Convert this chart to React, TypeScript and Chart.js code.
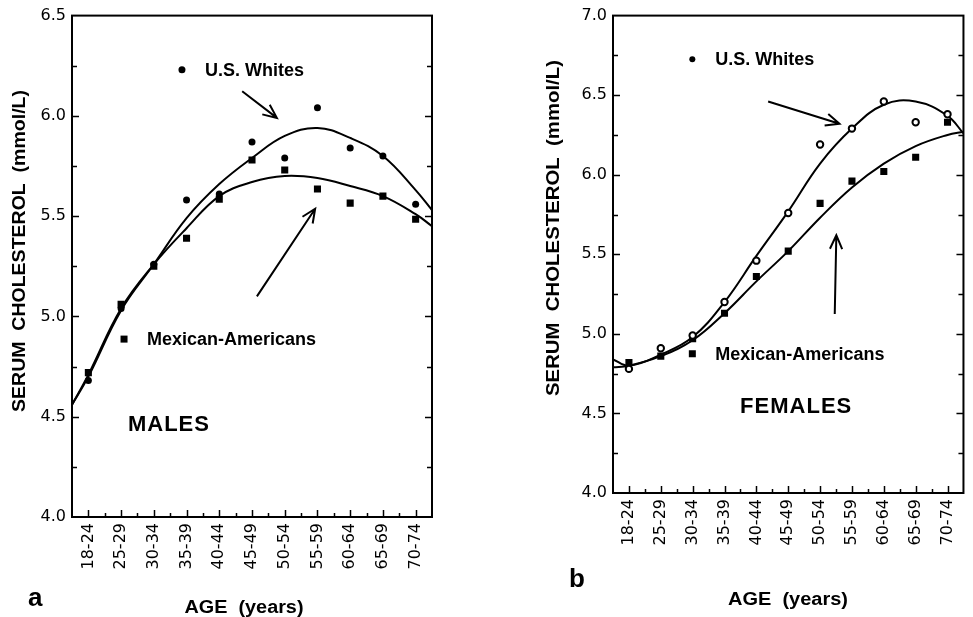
import React, { useEffect, useRef } from "react";
import { Chart, registerables } from "chart.js";
Chart.register(...registerables);

// ---------- DATA ----------
const ageGroups = ["18-24", "25-29", "30-34", "35-39", "40-44", "45-49", "50-54", "55-59", "60-64", "65-69", "70-74"];

// Panel a: males (observed means)
const maleWhites = [4.68, 5.04, 5.26, 5.58, 5.61, 5.87, 5.79, 6.04, 5.84, 5.8, 5.56];
const maleMexican = [4.72, 5.06, 5.25, 5.39, 5.585, 5.78, 5.73, 5.635, 5.565, 5.6, 5.485];
// Panel b: females (observed means)
const femaleWhites = [4.78, 4.91, 4.99, 5.2, 5.46, 5.76, 6.19, 6.29, 6.46, 6.33, 6.38];
const femaleMexican = [4.82, 4.86, 4.97, 5.13, 5.36, 5.52, 5.82, 5.96, 6.02, 6.11, 6.33];

// Fitted curves at these age-group positions
const curveX = [-0.5, 0, 1, 2, 3, 4, 5, 6, 7, 8, 9, 10, 10.5];
const maleWhitesCurve = [4.56, 4.7, 5.03, 5.26, 5.49, 5.66, 5.79, 5.9, 5.94, 5.89, 5.8, 5.63, 5.53];
const maleMexicanCurve = [4.56, 4.71, 5.04, 5.26, 5.44, 5.6, 5.67, 5.7, 5.69, 5.65, 5.6, 5.51, 5.45];
const femaleWhitesCurve = [4.84, 4.8, 4.87, 4.98, 5.2, 5.49, 5.77, 6.07, 6.29, 6.44, 6.46, 6.37, 6.26];
const femaleMexicanCurve = [4.79, 4.8, 4.86, 4.96, 5.13, 5.33, 5.52, 5.73, 5.92, 6.07, 6.18, 6.25, 6.27];

// Y ranges
const maleYRange = [4.0, 6.5];
const femaleYRange = [4.0, 7.0];

// In-plot legend entries (data coordinates)
const maleLegend = [
  { label: "U.S. Whites", x: 2.86, y: 6.23, marker: "circle" },
  { label: "Mexican-Americans", x: 1.09, y: 4.887, marker: "square" },
];
const femaleLegend = [
  { label: "U.S. Whites", x: 1.99, y: 6.725, marker: "dot" },
  { label: "Mexican-Americans", x: 1.99, y: 4.875, marker: "square" },
];
const maleArrows = [
  { x0: 4.7, y0: 6.123, x1: 5.76, y1: 5.99 },
  { x0: 5.15, y0: 5.1, x1: 6.93, y1: 5.537 },
];
const femaleArrows = [
  { x0: 4.37, y0: 6.46, x1: 6.61, y1: 6.32 },
  { x0: 6.46, y0: 5.125, x1: 6.51, y1: 5.62 },
];
const maleTag = { text: "MALES", x: 1.21, y: 4.458 };
const femaleTag = { text: "FEMALES", x: 3.49, y: 4.54 };

const yTitle = "SERUM  CHOLESTEROL  (mmol/L)";
const xTitle = "AGE  (years)";

// ---------- LAYOUT ----------
type Panel = {
  key: string;
  canvasLeft: number;
  width: number;
  area: { left: number; right: number; top: number; bottom: number };
  yRange: number[];
  whites: number[];
  mexican: number[];
  whitesCurve: number[];
  mexicanCurve: number[];
  whitesStyle: "filled" | "ring";
  legend: { label: string; x: number; y: number; marker: string }[];
  arrows: { x0: number; y0: number; x1: number; y1: number }[];
  tag: { text: string; x: number; y: number };
  letter: string;
  letterPos: [number, number];
  xTitlePos: [number, number];
  xTitleWidth: number;
  yTitlePos: [number, number];
  yTitleWidth: number;
};

const H = 617;
const panels: Panel[] = [
  {
    key: "a",
    canvasLeft: 0,
    width: 486,
    area: { left: 72, right: 432, top: 9, bottom: 517 },
    yRange: maleYRange,
    whites: maleWhites,
    mexican: maleMexican,
    whitesCurve: maleWhitesCurve,
    mexicanCurve: maleMexicanCurve,
    whitesStyle: "filled",
    legend: maleLegend,
    arrows: maleArrows,
    tag: maleTag,
    letter: "a",
    letterPos: [28, 599],
    xTitlePos: [244, 608],
    xTitleWidth: 119,
    yTitlePos: [20, 251],
    yTitleWidth: 322,
  },
  {
    key: "b",
    canvasLeft: 486,
    width: 487,
    area: { left: 127, right: 486, top: 13, bottom: 493 },
    yRange: femaleYRange,
    whites: femaleWhites,
    mexican: femaleMexican,
    whitesCurve: femaleWhitesCurve,
    mexicanCurve: femaleMexicanCurve,
    whitesStyle: "ring",
    legend: femaleLegend,
    arrows: femaleArrows,
    tag: femaleTag,
    letter: "b",
    letterPos: [83, 580],
    xTitlePos: [302, 600],
    xTitleWidth: 120,
    yTitlePos: [68, 228],
    yTitleWidth: 336,
  },
];

const BOLD = '"Liberation Sans", Arial, sans-serif';
const TICKFONT = '"DejaVu Sans", sans-serif';

function fitText(ctx: CanvasRenderingContext2D, text: string, cx: number, cy: number, target: number, rot: number) {
  const w = ctx.measureText(text).width;
  ctx.save();
  ctx.translate(cx, cy);
  ctx.rotate(rot);
  ctx.scale(target / w, 1);
  ctx.textAlign = "center";
  ctx.textBaseline = "middle";
  ctx.fillText(text, 0, 0);
  ctx.restore();
}

function drawMarker(ctx: CanvasRenderingContext2D, kind: string, x: number, y: number) {
  ctx.save();
  ctx.fillStyle = "#000";
  ctx.strokeStyle = "#000";
  if (kind === "square") {
    ctx.fillRect(x - 3.5, y - 3.5, 7, 7);
  } else if (kind === "circle") {
    ctx.beginPath();
    ctx.arc(x, y, 3.5, 0, Math.PI * 2);
    ctx.fill();
  } else if (kind === "dot") {
    ctx.beginPath();
    ctx.arc(x, y, 3, 0, Math.PI * 2);
    ctx.fill();
  } else {
    ctx.beginPath();
    ctx.arc(x, y, 3.2, 0, Math.PI * 2);
    ctx.fillStyle = "#fff";
    ctx.fill();
    ctx.lineWidth = 2;
    ctx.stroke();
  }
  ctx.restore();
}

function makeDecor(p: Panel) {
  return {
    id: "decor-" + p.key,
    afterDraw(chart: any) {
      const ctx: CanvasRenderingContext2D = chart.ctx;
      const { left, right, top, bottom } = chart.chartArea;
      const xs = chart.scales.x;
      const ys = chart.scales.y;
      ctx.save();
      ctx.strokeStyle = "#000";
      ctx.fillStyle = "#000";
      ctx.lineWidth = 2;
      ctx.strokeRect(left, top, right - left, bottom - top);

      // inward y ticks on both sides
      ctx.lineWidth = 1.5;
      const [y0, y1] = p.yRange;
      for (let k = 1; ; k++) {
        const v = y0 + k * 0.25;
        if (v >= y1 - 1e-6) break;
        const py = Math.round(ys.getPixelForValue(v)) + 0.5;
        const major = Math.abs(v * 2 - Math.round(v * 2)) < 1e-6;
        const len = major ? 7 : 5;
        ctx.beginPath();
        ctx.moveTo(left, py);
        ctx.lineTo(left + len, py);
        ctx.moveTo(right, py);
        ctx.lineTo(right - len, py);
        ctx.stroke();
      }
      // inward x ticks
      for (let i = 0; i < ageGroups.length; i++) {
        const px = Math.round(xs.getPixelForValue(i)) + 0.5;
        ctx.beginPath();
        ctx.moveTo(px, bottom);
        ctx.lineTo(px, bottom - 7);
        ctx.stroke();
        if (i < ageGroups.length - 1) {
          const pm = Math.round(xs.getPixelForValue(i + 0.5)) + 0.5;
          ctx.beginPath();
          ctx.moveTo(pm, bottom);
          ctx.lineTo(pm, bottom - 4);
          ctx.stroke();
        }
      }

      // legend markers + labels
      ctx.font = `bold 18px ${BOLD}`;
      ctx.textAlign = "left";
      ctx.textBaseline = "middle";
      for (const l of p.legend) {
        const px = xs.getPixelForValue(l.x);
        const py = ys.getPixelForValue(l.y);
        drawMarker(ctx, l.marker, px, py);
        ctx.fillStyle = "#000";
        ctx.fillText(l.label, px + 23, py + 1);
      }

      // arrows
      ctx.lineWidth = 2;
      for (const a of p.arrows) {
        const ax = xs.getPixelForValue(a.x0);
        const ay = ys.getPixelForValue(a.y0);
        const bx = xs.getPixelForValue(a.x1);
        const by = ys.getPixelForValue(a.y1);
        const ang = Math.atan2(ay - by, ax - bx);
        ctx.beginPath();
        ctx.moveTo(ax, ay);
        ctx.lineTo(bx, by);
        const hl = 15;
        const da = 0.42;
        ctx.moveTo(bx + hl * Math.cos(ang + da), by + hl * Math.sin(ang + da));
        ctx.lineTo(bx, by);
        ctx.lineTo(bx + hl * Math.cos(ang - da), by + hl * Math.sin(ang - da));
        ctx.stroke();
      }

      // panel tag
      ctx.font = `bold 22px ${BOLD}`;
      (ctx as any).letterSpacing = "1px";
      ctx.fillText(p.tag.text, xs.getPixelForValue(p.tag.x), ys.getPixelForValue(p.tag.y));
      (ctx as any).letterSpacing = "0px";

      // axis titles
      ctx.font = `bold 18px ${BOLD}`;
      fitText(ctx, xTitle, p.xTitlePos[0], p.xTitlePos[1], p.xTitleWidth, 0);
      fitText(ctx, yTitle, p.yTitlePos[0], p.yTitlePos[1], p.yTitleWidth, -Math.PI / 2);

      // panel letter
      ctx.font = `bold 26px ${BOLD}`;
      ctx.textAlign = "left";
      ctx.textBaseline = "middle";
      ctx.fillText(p.letter, p.letterPos[0], p.letterPos[1]);
      ctx.restore();
    },
  };
}

function PanelChart({ p }: { p: Panel }) {
  const ref = useRef<HTMLCanvasElement>(null);
  useEffect(() => {
    if (!ref.current) return;
    const pts = (arr: number[]) => arr.map((y, i) => ({ x: i, y }));
    const crv = (arr: number[]) => arr.map((y, i) => ({ x: curveX[i], y }));
    const chart = new Chart(ref.current, {
      type: "line",
      data: {
        datasets: [
          {
            label: "U.S. Whites",
            data: pts(p.whites),
            showLine: false,
            pointStyle: "circle",
            pointRadius: p.whitesStyle === "ring" ? 3.2 : 3.5,
            pointBackgroundColor: p.whitesStyle === "ring" ? "#fff" : "#000",
            pointBorderColor: "#000",
            pointBorderWidth: p.whitesStyle === "ring" ? 2 : 0,
          },
          {
            label: "Mexican-Americans",
            data: pts(p.mexican),
            showLine: false,
            pointStyle: "rect",
            pointRadius: 5,
            pointBackgroundColor: "#000",
            pointBorderColor: "#000",
            pointBorderWidth: 0,
          },
          {
            label: "U.S. Whites fit",
            data: crv(p.whitesCurve),
            borderColor: "#000",
            borderWidth: 2,
            pointRadius: 0,
            tension: 0.4,
            fill: false,
          },
          {
            label: "Mexican-Americans fit",
            data: crv(p.mexicanCurve),
            borderColor: "#000",
            borderWidth: 2,
            pointRadius: 0,
            tension: 0.4,
            fill: false,
          },
        ],
      } as any,
      options: {
        animation: false,
        responsive: false,
        maintainAspectRatio: false,
        layout: {
          padding: {
            left: 0,
            top: p.area.top,
            right: p.width - p.area.right,
            bottom: 0,
          },
        },
        plugins: { legend: { display: false }, tooltip: { enabled: false } },
        scales: {
          x: {
            type: "linear",
            min: -0.5,
            max: 10.5,
            grid: { display: false, drawTicks: false },
            border: { display: false },
            afterBuildTicks: (s: any) => {
              s.ticks = ageGroups.map((_, i) => ({ value: i }));
            },
            afterFit: (s: any) => {
              s.height = H - p.area.bottom;
            },
            ticks: {
              autoSkip: false,
              minRotation: 90,
              maxRotation: 90,
              padding: 6,
              color: "#000",
              font: { family: TICKFONT, size: 16 },
              callback: (v: any) => ageGroups[v] ?? "",
            },
          },
          y: {
            type: "linear",
            min: p.yRange[0],
            max: p.yRange[1],
            grid: { display: false, drawTicks: false },
            border: { display: false },
            afterFit: (s: any) => {
              s.width = p.area.left;
            },
            ticks: {
              stepSize: 0.5,
              padding: 6,
              color: "#000",
              font: { family: TICKFONT, size: 16 },
              callback: (v: any) => Number(v).toFixed(1),
            },
          },
        },
      } as any,
      plugins: [makeDecor(p)],
    });
    return () => chart.destroy();
  }, [p]);
  return (
    <canvas
      ref={ref}
      width={p.width}
      height={H}
      style={{ position: "absolute", left: p.canvasLeft, top: 0, width: p.width, height: H }}
    />
  );
}

export default function App() {
  return (
    <div style={{ position: "absolute", left: 0, top: 0, width: 973, height: H, background: "#fff", overflow: "hidden" }}>
      {panels.map((p) => (
        <PanelChart key={p.key} p={p} />
      ))}
    </div>
  );
}
